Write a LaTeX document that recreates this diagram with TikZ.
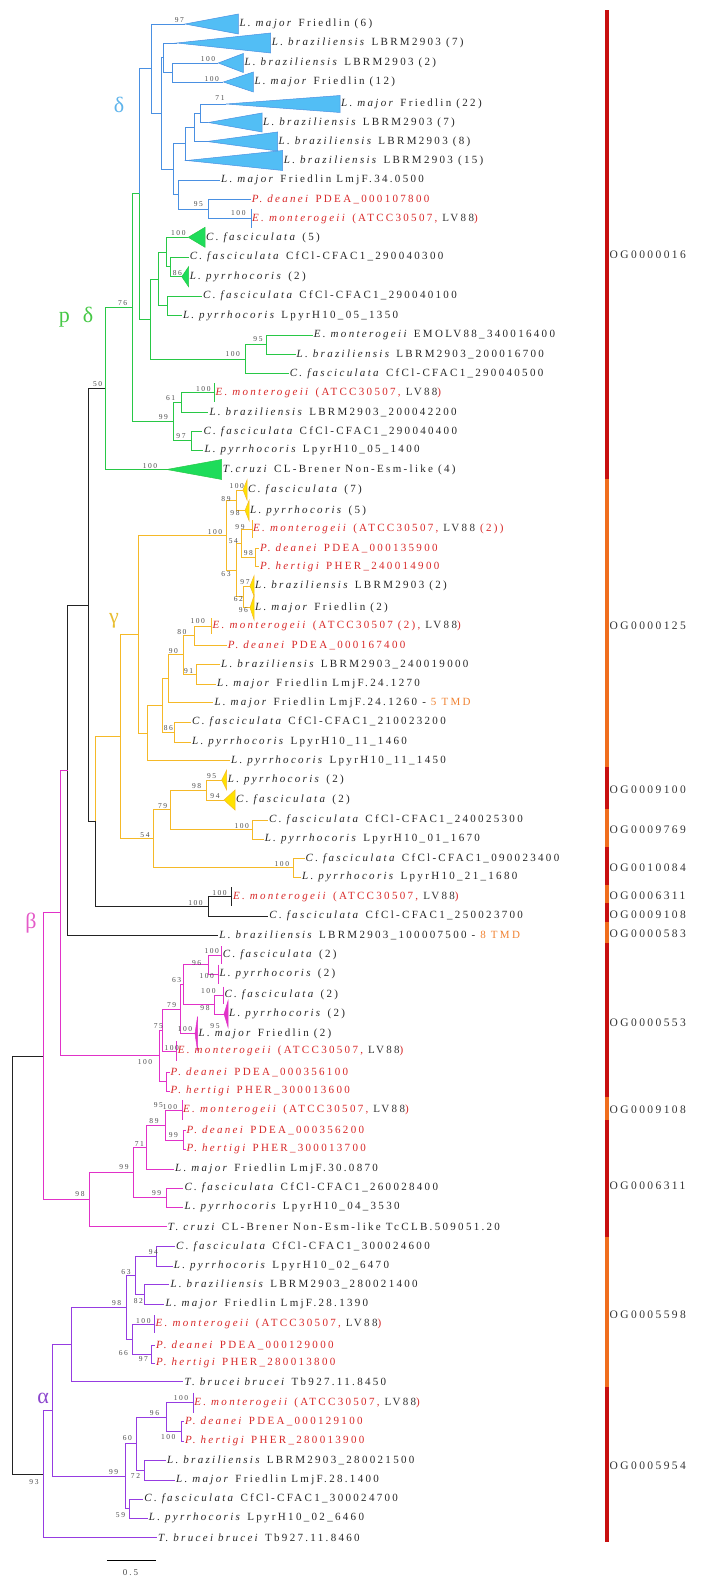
\documentclass[tikz,border=0pt]{standalone}
\usepackage{fontspec}
\setmainfont{Liberation Serif}
\newfontfamily\treefont[LetterSpace=21]{Liberation Serif}
\usetikzlibrary{calc}

\definecolor{cdelta}{RGB}{74,144,226}
\definecolor{triblue}{RGB}{82,190,245}
\definecolor{cgreen}{RGB}{40,200,70}
\definecolor{trigreen}{RGB}{30,220,90}
\definecolor{cgamma}{RGB}{245,185,40}
\definecolor{triyellow}{RGB}{255,226,0}
\definecolor{cbeta}{RGB}{225,50,200}
\definecolor{calpha}{RGB}{150,60,225}
\definecolor{cback}{RGB}{35,35,35}
\definecolor{redtx}{RGB}{215,40,40}
\definecolor{tmd}{RGB}{240,130,50}
\definecolor{ogred}{RGB}{200,16,16}
\definecolor{ogorange}{RGB}{240,110,30}

% species names
\newcommand{\Lmaj}{\textit{L. major}}
\newcommand{\Lbra}{\textit{L. braziliensis}}
\newcommand{\Cfas}{\textit{C. fasciculata}}
\newcommand{\Lpyr}{\textit{L. pyrrhocoris}}
\newcommand{\Emon}{\textit{E. monterogeii}}
\newcommand{\Pdea}{\textit{P. deanei}}
\newcommand{\Pher}{\textit{P. hertigi}}
\newcommand{\Tbru}{\textit{T. brucei brucei}}

% leaves: plain tip, collapsed triangle, collapsed bar
\newcommand{\tipleaf}[5][leaf]{\coordinate (t#2) at (#3,#4);\node[#1] (l#2) at (t#2) {#5};}
\newcommand{\trileaf}[8][leaf]{\coordinate (t#2) at (#3,#5);\filldraw[#7] (t#2) -- (#4,{#5-#6}) -- (#4,{#5+#6}) -- cycle;\node[#1] (l#2) at (#4,#5) {#8};}
\newcommand{\barleaf}[7][redleaf]{\coordinate (t#2) at (#3,#4);\draw[br,#6] (#3,{#4-#5}) -- (#3,{#4+#5});\node[#1] (l#2) at (t#2) {#7};}
% inner node half way between its two children, with its two branches
\newcommand{\clade}[6][]{\path let \p1=(#4), \p2=(#5) in (#3pt,{0.5*(\y1+\y2)}) coordinate (#2);\draw[br,#6] (#2) |- (#4);\draw[br,#6,#1] (#2) |- (#5);}

\begin{document}
\begin{tikzpicture}[
    x=1pt, y=-1pt,
    br/.style={line width=0.9pt},
    leaf/.style={anchor=west, inner sep=1pt, text=black!85, font=\treefont\fontsize{11}{13}\selectfont},
    redleaf/.style={leaf, text=redtx},
    bs/.style={inner sep=0pt, text=black!70, font=\treefont\fontsize{7.5}{9}\selectfont},
    oglab/.style={anchor=west, inner sep=0pt, text=black!80, font=\treefont\fontsize{11.5}{13}\selectfont},
    greek/.style={inner sep=0pt, font=\fontsize{22}{24}\selectfont},
    tblue/.style={fill=triblue, draw=cdelta, line width=0.5pt},
    tgreen/.style={fill=trigreen, draw=cgreen, line width=0.5pt},
    tyellow/.style={fill=triyellow, draw=cgamma, line width=0.5pt},
    tbeta/.style={fill=cbeta, draw=cbeta, line width=0.5pt}
]
\useasboundingbox (0,0) rectangle (716,1586);

% ========== LEAVES ==========
% delta
\trileaf{01}{185}{238.3}{24}{10}{tblue}{\Lmaj{} Friedlin (6)}
\trileaf{02}{176.7}{270.7}{43}{10}{tblue}{\Lbra{} LBRM2903 (7)}
\trileaf{03}{218.3}{243.3}{63}{9.5}{tblue}{\Lbra{} LBRM2903 (2)}
\trileaf{04}{223.3}{253.3}{82}{10}{tblue}{\Lmaj{} Friedlin (12)}
\trileaf{05}{226}{340}{104}{8.5}{tblue}{\Lmaj{} Friedlin (22)}
\trileaf{06}{208.3}{262}{122.5}{9.5}{tblue}{\Lbra{} LBRM2903 (7)}
\trileaf{07}{207}{277.5}{141.5}{9.5}{tblue}{\Lbra{} LBRM2903 (8)}
\trileaf{08}{186.7}{282.7}{160.5}{10}{tblue}{\Lbra{} LBRM2903 (15)}
\tipleaf{09}{220}{180.3}{\Lmaj{} Friedlin LmjF.34.0500}
\tipleaf[redleaf]{10}{250.7}{199.5}{\Pdea{} PDEA\_000107800}
\barleaf{11}{251}{218.5}{9.5}{cdelta}{\Emon{} (ATCC30507, {\color{black!80}LV88})}
% p-delta
\trileaf{12}{188.3}{205}{237.3}{10}{tgreen}{\Cfas{} (5)}
\tipleaf{13}{188.6}{257}{\Cfas{} CfCl-CFAC1\_290040300}
\trileaf{14}{181.8}{188.6}{276.7}{10}{tgreen}{\Lpyr{} (2)}
\tipleaf{15}{202}{296}{\Cfas{} CfCl-CFAC1\_290040100}
\tipleaf{16}{181.8}{315.7}{\Lpyr{} LpyrH10\_05\_1350}
\tipleaf{17}{312.7}{335.3}{\Emon{} EMOLV88\_340016400}
\tipleaf{18}{295.5}{354.3}{\Lbra{} LBRM2903\_200016700}
\tipleaf{19}{288.6}{373.7}{\Cfas{} CfCl-CFAC1\_290040500}
\barleaf{20}{214.3}{392.5}{9.5}{cgreen}{\Emon{} (ATCC30507, {\color{black!80}LV88})}
\tipleaf{21}{208.3}{412}{\Lbra{} LBRM2903\_200042200}
\tipleaf{22}{202.3}{431.5}{\Cfas{} CfCl-CFAC1\_290040400}
\tipleaf{23}{203.3}{450}{\Lpyr{} LpyrH10\_05\_1400}
\trileaf{24}{166.7}{221.7}{469.5}{10}{tgreen}{\textit{T.cruzi} CL-Brener Non-Esm-like (4)}
% gamma
\trileaf{25}{243}{247}{490}{10}{tyellow}{\Cfas{} (7)}
\trileaf{26}{245}{249}{510.5}{10}{tyellow}{\Lpyr{} (5)}
\barleaf{27}{252}{529.3}{9}{cgamma}{\Emon{} (ATCC30507, {\color{black!80}LV88} (2))}
\tipleaf[redleaf]{28}{259}{548}{\Pdea{} PDEA\_000135900}
\tipleaf[redleaf]{29}{259}{566.7}{\Pher{} PHER\_240014900}
\trileaf{30}{250}{254}{586}{10}{tyellow}{\Lbra{} LBRM2903 (2)}
\trileaf{31}{250}{254}{607.7}{12}{tyellow}{\Lmaj{} Friedlin (2)}
\barleaf{32}{211.5}{626}{8}{cgamma}{\Emon{} (ATCC30507 (2), {\color{black!80}LV88})}
\tipleaf[redleaf]{33}{226.7}{645}{\Pdea{} PDEA\_000167400}
\tipleaf{34}{220}{664.7}{\Lbra{} LBRM2903\_240019000}
\tipleaf{35}{216}{684}{\Lmaj{} Friedlin LmjF.24.1270}
\tipleaf{36}{213.3}{702.7}{\Lmaj{} Friedlin LmjF.24.1260 - \textcolor{tmd}{5 TMD}}
\tipleaf{37}{191}{722}{\Cfas{} CfCl-CFAC1\_210023200}
\tipleaf{38}{191}{742}{\Lpyr{} LpyrH10\_11\_1460}
\tipleaf{39}{230}{760.7}{\Lpyr{} LpyrH10\_11\_1450}
\trileaf{40}{221.7}{226.7}{780}{10}{tyellow}{\Lpyr{} (2)}
\trileaf{41}{224}{235}{800}{10}{tyellow}{\Cfas{} (2)}
\tipleaf{42}{268}{820}{\Cfas{} CfCl-CFAC1\_240025300}
\tipleaf{43}{263.6}{839.3}{\Lpyr{} LpyrH10\_01\_1670}
\tipleaf{44}{304.5}{858.3}{\Cfas{} CfCl-CFAC1\_090023400}
\tipleaf{45}{301}{877.3}{\Lpyr{} LpyrH10\_21\_1680}
% unplaced
\barleaf{46}{231.8}{896.5}{9.5}{cback}{\Emon{} (ATCC30507, {\color{black!80}LV88})}
\tipleaf{47}{268.2}{916}{\Cfas{} CfCl-CFAC1\_250023700}
\tipleaf{48}{218.2}{935}{\Lbra{} LBRM2903\_100007500 - \textcolor{tmd}{8 TMD}}
% beta
\barleaf[leaf]{49}{221.7}{955}{9}{cbeta}{\Cfas{} (2)}
\barleaf[leaf]{50}{218.3}{974}{9.5}{cbeta}{\Lpyr{} (2)}
\barleaf[leaf]{51}{223.3}{995}{8.5}{cbeta}{\Cfas{} (2)}
\trileaf{52}{224}{228}{1014}{13}{tbeta}{\Lpyr{} (2)}
\trileaf{53}{195}{197.5}{1033.7}{17}{tbeta}{\Lmaj{} Friedlin (2)}
\barleaf{54}{176.7}{1051}{10}{cbeta}{\Emon{} (ATCC30507, {\color{black!80}LV88})}
\tipleaf[redleaf]{55}{169.5}{1072.3}{\Pdea{} PDEA\_000356100}
\tipleaf[redleaf]{56}{169.5}{1091}{\Pher{} PHER\_300013600}
\barleaf{57}{182}{1110}{10}{cbeta}{\Emon{} (ATCC30507, {\color{black!80}LV88})}
\tipleaf[redleaf]{58}{185.5}{1130.7}{\Pdea{} PDEA\_000356200}
\tipleaf[redleaf]{59}{185.5}{1149.3}{\Pher{} PHER\_300013700}
\tipleaf{60}{174}{1169}{\Lmaj{} Friedlin LmjF.30.0870}
\tipleaf{61}{183.3}{1188}{\Cfas{} CfCl-CFAC1\_260028400}
\tipleaf{62}{183.3}{1207.3}{\Lpyr{} LpyrH10\_04\_3530}
\tipleaf{63}{166.7}{1226.7}{\textit{T. cruzi} CL-Brener Non-Esm-like TcCLB.509051.20}
% alpha
\tipleaf{64}{175}{1246.7}{\Cfas{} CfCl-CFAC1\_300024600}
\tipleaf{65}{172.7}{1266}{\Lpyr{} LpyrH10\_02\_6470}
\tipleaf{66}{169.3}{1284.3}{\Lbra{} LBRM2903\_280021400}
\tipleaf{67}{164.3}{1304}{\Lmaj{} Friedlin LmjF.28.1390}
\barleaf{68}{154.5}{1324}{9}{calpha}{\Emon{} (ATCC30507, {\color{black!80}LV88})}
\tipleaf[redleaf]{69}{155}{1345}{\Pdea{} PDEA\_000129000}
\tipleaf[redleaf]{70}{155}{1363.3}{\Pher{} PHER\_280013800}
\tipleaf{71}{183.3}{1381.7}{\Tbru{} Tb927.11.8450}
\barleaf{72}{193.2}{1402.7}{10}{calpha}{\Emon{} (ATCC30507, {\color{black!80}LV88})}
\tipleaf[redleaf]{73}{184}{1421.7}{\Pdea{} PDEA\_000129100}
\tipleaf[redleaf]{74}{184}{1441.3}{\Pher{} PHER\_280013900}
\tipleaf{75}{166}{1460.7}{\Lbra{} LBRM2903\_280021500}
\tipleaf{76}{175}{1480}{\Lmaj{} Friedlin LmjF.28.1400}
\tipleaf{77}{143.2}{1499}{\Cfas{} CfCl-CFAC1\_300024700}
\tipleaf{78}{147.7}{1518.3}{\Lpyr{} LpyrH10\_02\_6460}
\tipleaf{79}{156.8}{1537.7}{\Tbru{} Tb927.11.8460}

% ========== INNER NODES ==========
% delta
\clade{b95}{208.3}{t10}{t11}{cdelta}
\clade{b11}{178.3}{t09}{b95}{cdelta}
\clade{b9}{200}{t05}{t06}{cdelta}
\clade{b8}{194}{b9}{t07}{cdelta}
\clade{b7}{185}{b8}{t08}{cdelta}
\clade{b6}{173.3}{b7}{b11}{cdelta}
\clade{b4}{172.7}{t03}{t04}{cdelta}
\clade{b3}{163.3}{t02}{b4}{cdelta}
\clade{b2}{161.7}{b3}{b6}{cdelta}
\clade{b1}{151.7}{t01}{b2}{cdelta}
% p-delta
\clade{gU}{170.5}{t13}{t14}{cgreen}
\clade{gT}{166.7}{t12}{gU}{cgreen}
\clade{gS}{167.3}{t15}{t16}{cgreen}
\clade{gV}{158.2}{gT}{gS}{cgreen}
\clade{g95}{266}{t17}{t18}{cgreen}
\clade{g100}{245.5}{g95}{t19}{cgreen}
\clade{gR}{150}{gV}{g100}{cgreen}
\clade[cgreen]{gQ}{139.3}{b1}{gR}{cdelta}
\clade{g61}{181}{t20}{t21}{cgreen}
\clade{g97}{191.7}{t22}{t23}{cgreen}
\clade{g99}{173}{g61}{g97}{cgreen}
\clade{gP}{132.7}{gQ}{g99}{cgreen}
\clade{g76}{105.3}{gP}{t24}{cgreen}
% gamma
\clade{y89}{236.7}{t25}{t26}{cgamma}
\clade{y98b}{255}{t28}{t29}{cgamma}
\clade{y54b}{241.7}{t27}{y98b}{cgamma}
\clade{y62}{243.3}{t30}{t31}{cgamma}
\clade{y63}{236.7}{y54b}{y62}{cgamma}
\clade{y100}{226}{y89}{y63}{cgamma}
\clade{y80}{194.4}{t32}{t33}{cgamma}
\clade{y91}{196.7}{t34}{t35}{cgamma}
\clade{y90}{183.3}{y80}{y91}{cgamma}
\clade{yH1}{168.3}{y90}{t36}{cgamma}
\clade{y86}{174}{t37}{t38}{cgamma}
\clade{yH2}{162.3}{yH1}{y86}{cgamma}
\clade{yGb}{147.7}{yH2}{t39}{cgamma}
\clade{yGa}{138.3}{y100}{yGb}{cgamma}
\clade{y98}{206}{t40}{t41}{cgamma}
\clade{y100b}{252}{t42}{t43}{cgamma}
\clade{y79}{170.7}{y98}{y100b}{cgamma}
\clade{y100c}{293}{t44}{t45}{cgamma}
\clade{y54}{153.3}{y79}{y100c}{cgamma}
\clade{yGr}{120}{yGa}{y54}{cgamma}
% backbone
\clade{k100}{208.8}{t46}{t47}{cback}
\clade[cback]{kG0}{95}{yGr}{k100}{cgamma}
\clade{k50}{88.7}{g76}{kG0}{cback}
\clade{k67}{67.7}{k50}{t48}{cback}
% beta
\clade{m96}{208.3}{t49}{t50}{cbeta}
\clade{m98}{214}{t51}{t52}{cbeta}
\clade{m63}{183.3}{m96}{m98}{cbeta}
\clade{m79}{180}{m63}{t53}{cbeta}
\clade{m75}{162}{m79}{t54}{cbeta}
\clade{m95}{166}{t55}{t56}{cbeta}
\clade{mc}{159.5}{m75}{m95}{cbeta}
\clade{mBm}{60.7}{k67}{mc}{cbeta}
\clade{m99c}{183.3}{t58}{t59}{cbeta}
\clade{m89}{165.7}{t57}{m99c}{cbeta}
\clade{m71}{146.7}{m89}{t60}{cbeta}
\clade{m99b}{166}{t61}{t62}{cbeta}
\clade{m99a}{133.3}{m71}{m99b}{cbeta}
\clade{m98b}{89.3}{m99a}{t63}{cbeta}
\clade{mBB}{43.3}{mBm}{m98b}{cbeta}
% alpha
\clade{p94}{156.7}{t64}{t65}{calpha}
\clade{p82}{144}{t66}{t67}{calpha}
\clade{p63}{135}{p94}{p82}{calpha}
\clade{p97}{151.7}{t69}{t70}{calpha}
\clade{p66}{132.7}{t68}{p97}{calpha}
\clade{p98}{126}{p63}{p66}{calpha}
\clade{pb}{71.7}{p98}{t71}{calpha}
\clade{p100}{181}{t73}{t74}{calpha}
\clade{p96}{166}{t72}{p100}{calpha}
\clade{p72}{144.5}{t75}{t76}{calpha}
\clade{p60}{136.4}{p96}{p72}{calpha}
\clade{p59}{129.5}{t77}{t78}{calpha}
\clade{p99}{125}{p60}{p59}{calpha}
\clade{pa}{52.5}{pb}{p99}{calpha}
\clade{pr}{43.2}{pa}{t79}{calpha}
% root
\clade{root}{12.7}{mBB}{pr}{cback}

% ========== SUPPORT VALUES ==========
\node[bs] (s01) at (179.3,20) {97};
\node[bs] (s02) at (208,59) {100};
\node[bs] (s03) at (211.7,79) {100};
\node[bs] (s04) at (220,97.7) {71};
\node[bs] (s05) at (198.3,204) {95};
\node[bs] (s06) at (238.3,213.3) {100};
\node[bs] (s07) at (178.3,233.3) {100};
\node[bs] (s08) at (177.3,272.7) {86};
\node[bs] (s09) at (122.7,302.7) {76};
\node[bs] (s10) at (258,339.3) {95};
\node[bs] (s11) at (232.7,354.3) {100};
\node[bs] (s12) at (97.7,384) {50};
\node[bs] (s13) at (203.3,389) {100};
\node[bs] (s14) at (170.7,397.7) {61};
\node[bs] (s15) at (163.3,417.3) {99};
\node[bs] (s16) at (181,436) {97};
\node[bs] (s17) at (150,466) {100};
\node[bs] (s18) at (236.7,486) {100};
\node[bs] (s19) at (226,499.3) {89};
\node[bs] (s20) at (235,512.7) {98};
\node[bs] (s21) at (240,526.7) {99};
\node[bs] (s22) at (215,531.7) {100};
\node[bs] (s23) at (233.3,540.7) {54};
\node[bs] (s24) at (248.3,553.3) {98};
\node[bs] (s25) at (226,574.3) {63};
\node[bs] (s26) at (245,581.7) {97};
\node[bs] (s27) at (238.3,599.3) {62};
\node[bs] (s28) at (243.3,610) {96};
\node[bs] (s29) at (197.7,620.7) {100};
\node[bs] (s30) at (181.8,631.7) {80};
\node[bs] (s31) at (173.3,651) {90};
\node[bs] (s32) at (188.6,670.7) {91};
\node[bs] (s33) at (168.3,728.3) {86};
\node[bs] (s34) at (211.7,776) {95};
\node[bs] (s35) at (196.7,786) {98};
\node[bs] (s36) at (215,796) {94};
\node[bs] (s37) at (162.7,806) {79};
\node[bs] (s38) at (241.7,826) {100};
\node[bs] (s39) at (145,835) {54};
\node[bs] (s40) at (281.8,864) {100};
\node[bs] (s41) at (219.5,892.7) {100};
\node[bs] (s42) at (195.5,902.7) {100};
\node[bs] (s43) at (211.7,950.7) {100};
\node[bs] (s44) at (196.7,962.7) {96};
\node[bs] (s45) at (206.7,976) {100};
\node[bs] (s46) at (176.7,980) {63};
\node[bs] (s47) at (208.3,990.7) {100};
\node[bs] (s48) at (171.7,1005) {79};
\node[bs] (s49) at (205,1008.3) {98};
\node[bs] (s50) at (215,1026) {95};
\node[bs] (s51) at (158.3,1026) {75};
\node[bs] (s52) at (185,1029.3) {100};
\node[bs] (s53) at (171.7,1048.3) {100};
\node[bs] (s54) at (145,1061.7) {100};
\node[bs] (s55) at (158.3,1105) {95};
\node[bs] (s56) at (170,1106.7) {100};
\node[bs] (s57) at (154,1120.7) {89};
\node[bs] (s58) at (173.3,1135) {99};
\node[bs] (s59) at (139.3,1144) {71};
\node[bs] (s60) at (124,1166.7) {99};
\node[bs] (s61) at (156.7,1193) {99};
\node[bs] (s62) at (80,1194) {98};
\node[bs] (s63) at (153.3,1251.7) {94};
\node[bs] (s64) at (126,1271.7) {63};
\node[bs] (s65) at (116.7,1302.7) {98};
\node[bs] (s66) at (138.3,1301) {82};
\node[bs] (s67) at (143.3,1321) {100};
\node[bs] (s68) at (123.3,1353.3) {66};
\node[bs] (s69) at (143.3,1359.3) {97};
\node[bs] (s70) at (181,1397.7) {100};
\node[bs] (s71) at (154.5,1412.7) {96};
\node[bs] (s72) at (168.2,1436.7) {100};
\node[bs] (s73) at (127.3,1438.3) {60};
\node[bs] (s74) at (113.6,1471.7) {99};
\node[bs] (s75) at (135.5,1475.7) {72};
\node[bs] (s76) at (120.5,1515) {59};
\node[bs] (s77) at (34,1482) {93};

% ========== CLADE LETTERS ==========
\node[greek, text={rgb,255:red,95;green,180;blue,235}] (dlt) at (119,105) {δ};
\node[greek, text={rgb,255:red,70;green,200;blue,70}] (pdl) at (76,317) {p\hspace{13pt}δ};
\node[greek, text={rgb,255:red,232;green,190;blue,50}] (gam) at (114,621) {γ};
\node[greek, text={rgb,255:red,228;green,90;blue,200}] (bet) at (31,923) {β};
\node[greek, text={rgb,255:red,140;green,70;blue,205}] (alp) at (43.2,1398) {α};

% ========== ORTHOGROUP BAR ==========
\fill[ogred] (604.5,10) rectangle (609,479.3);
\fill[ogorange] (604.5,479.3) rectangle (609,766.7);
\fill[ogred] (604.5,766.7) rectangle (609,809.3);
\fill[ogorange] (604.5,809.3) rectangle (609,846.7);
\fill[ogred] (604.5,846.7) rectangle (609,885);
\fill[ogorange] (604.5,885) rectangle (609,903.3);
\fill[ogred] (604.5,903.3) rectangle (609,921.7);
\fill[ogorange] (604.5,921.7) rectangle (609,943.3);
\fill[ogred] (604.5,943.3) rectangle (609,1096.7);
\fill[ogorange] (604.5,1096.7) rectangle (609,1120);
\fill[ogred] (604.5,1120) rectangle (609,1236.7);
\fill[ogorange] (604.5,1236.7) rectangle (609,1387.3);
\fill[ogred] (604.5,1387.3) rectangle (609,1541.7);

\node[oglab] (og01) at (609.5,255) {OG0000016};
\node[oglab] (og02) at (609.5,625.7) {OG0000125};
\node[oglab] (og03) at (609.5,789.3) {OG0009100};
\node[oglab] (og04) at (609.5,830) {OG0009769};
\node[oglab] (og05) at (609.5,867.7) {OG0010084};
\node[oglab] (og06) at (609.5,895.7) {OG0006311};
\node[oglab] (og07) at (609.5,915) {OG0009108};
\node[oglab] (og08) at (609.5,934) {OG0000583};
\node[oglab] (og09) at (609.5,1022.3) {OG0000553};
\node[oglab] (og10) at (609.5,1110) {OG0009108};
\node[oglab] (og11) at (609.5,1185.7) {OG0006311};
\node[oglab] (og12) at (609.5,1315) {OG0005598};
\node[oglab] (og13) at (609.5,1465.7) {OG0005954};

% ========== SCALE BAR ==========
\coordinate (sbl) at (106.8,1560.7);
\coordinate (sbr) at (155.9,1560.7);
\draw[br] (sbl) -- (sbr);
\node[bs, font=\treefont\fontsize{9}{10}\selectfont] (sblab) at (130.5,1572.7) {0.5};

\end{tikzpicture}
\end{document}
